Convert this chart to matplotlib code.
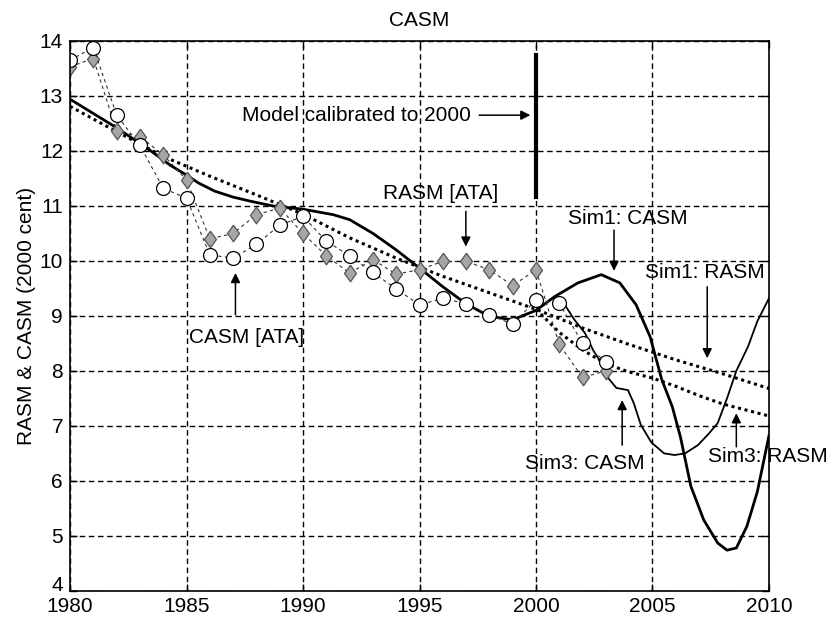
import matplotlib
matplotlib.use("Agg")
import matplotlib.pyplot as plt
import numpy as np

plt.rcParams['font.family'] = ['Liberation Sans', 'DejaVu Sans']

# ---- data ----
years_obs = list(range(1980, 2004))
casm_ata = [13.65, 13.88, 12.65, 12.10, 11.32, 11.14, 10.11, 10.05, 10.30, 10.65,
            10.81, 10.36, 10.09, 9.79, 9.49, 9.20, 9.32, 9.22, 9.02, 8.85,
            9.29, 9.23, 8.50, 8.17]
rasm_ata = [13.53, 13.68, 12.36, 12.26, 11.93, 11.47, 10.40, 10.50, 10.84, 10.96,
            10.50, 10.09, 9.78, 10.02, 9.76, 9.84, 9.99, 9.99, 9.84, 9.55,
            9.84, 8.48, 7.88, 8.00]

# model fit to 2000 then Sim1 CASM
sim1_casm_x = [1980, 1981, 1982, 1982.6, 1983.5, 1984.3, 1985, 1985.5, 1986.2, 1987,
               1987.8, 1988.7, 1990, 1991.3, 1992, 1993, 1994, 1995, 1996, 1997,
               1998, 1999, 2000,
               2000.8, 2001.8, 2002.8, 2003.6, 2004.3, 2004.9, 2005.4, 2005.85,
               2006.2, 2006.65, 2007.2, 2007.8, 2008.2, 2008.6, 2009.05, 2009.5, 2010]
sim1_casm_y = [12.94, 12.68, 12.42, 12.25, 11.99, 11.74, 11.56, 11.42, 11.27, 11.16,
               11.08, 11.00, 10.94, 10.84, 10.75, 10.50, 10.20, 9.87, 9.53, 9.22,
               8.99, 8.93, 9.10,
               9.35, 9.60, 9.75, 9.60, 9.20, 8.62, 7.84, 7.35,
               6.80, 5.90, 5.29, 4.87, 4.74, 4.78, 5.17, 5.80, 6.82]

# Sim3 CASM (departs after 2001)
sim3_casm_x = [2001.1, 2001.65, 2002.1, 2002.45, 2002.8, 2003.1, 2003.45, 2003.95,
               2004.2, 2004.5, 2004.95, 2005.5, 2005.95, 2006.4, 2006.95, 2007.4,
               2007.8, 2008.2, 2008.6, 2009.1, 2009.5, 2010]
sim3_casm_y = [9.29, 8.93, 8.69, 8.38, 8.14, 7.87, 7.69, 7.65,
               7.41, 7.02, 6.70, 6.50, 6.47, 6.50, 6.65, 6.85,
               7.05, 7.50, 8.00, 8.44, 8.90, 9.32]

# RASM model fit to 2000, then Sim1 RASM
sim1_rasm_x = [1980, 1982, 1984, 1986, 1988, 1990, 1992, 1994, 1996, 1998, 2000,
               2002, 2004, 2006, 2008, 2010]
sim1_rasm_y = [12.81, 12.35, 11.90, 11.54, 11.20, 10.85, 10.42, 10.05, 9.72, 9.42, 9.12,
               8.78, 8.48, 8.20, 7.95, 7.68]

# Sim3 RASM after 2000
sim3_rasm_x = [2000, 2001, 2002, 2003, 2004, 2005, 2006, 2007, 2008, 2009, 2010]
sim3_rasm_y = [9.12, 8.70, 8.38, 8.13, 7.98, 7.87, 7.72, 7.55, 7.40, 7.29, 7.18]

xticks = [1980, 1985, 1990, 1995, 2000, 2005, 2010]
yticks = [4, 5, 6, 7, 8, 9, 10, 11, 12, 13, 14]

# ---- figure ----
fig = plt.figure(figsize=(8.34, 6.2), dpi=100)
ax = fig.add_axes([0.084, 0.047, 0.838, 0.887])

ax.set_xlim(1980, 2010)
ax.set_ylim(4, 14)
ax.set_xticks(xticks)
ax.set_yticks(yticks)
ax.tick_params(direction='in', top=True, right=True, labelsize=15, length=5, width=1)
ax.tick_params(axis='x', pad=4.5)
ax.tick_params(axis='y', pad=5)
for s in ax.spines.values():
    s.set_linewidth(1.2)
ax.grid(True, color='black', linestyle=(0, (4, 2.6)), linewidth=1.0)
ax.set_axisbelow(True)

# lift the lowest y label a little, as in the reference
ylabels = ax.get_yticklabels()
ylabels[0].set_va('baseline')

ax.set_title('CASM', fontsize=15, pad=11)
ax.set_ylabel('RASM & CASM (2000 cent)', fontsize=15, labelpad=3)

# simulated curves
ax.plot(sim1_rasm_x, sim1_rasm_y, color='black', linestyle=(0, (1, 1.2)), linewidth=2.2)
ax.plot(sim3_rasm_x, sim3_rasm_y, color='black', linestyle=(0, (1, 1.2)), linewidth=2.2)
ax.plot(sim3_casm_x, sim3_casm_y, color='black', linewidth=1.3)
ax.plot(sim1_casm_x, sim1_casm_y, color='black', linewidth=2.0)

# observations
diamond = [(0, 1), (0.72, 0), (0, -1), (-0.72, 0), (0, 1)]
ax.plot(years_obs, rasm_ata, color='#333333', linestyle=(0, (3, 3)), linewidth=0.8,
        marker=diamond, markersize=12, markerfacecolor='#a6a6a6',
        markeredgecolor='#555555', markeredgewidth=0.9)
ax.plot(years_obs, casm_ata, color='#333333', linestyle=(0, (3, 3)), linewidth=0.8,
        marker='o', markersize=10, markerfacecolor='white',
        markeredgecolor='black', markeredgewidth=0.9)

# calibration line
ax.plot([2000, 2000], [11.16, 13.75], color='black', linewidth=3)

arrow = dict(arrowstyle='-|>', color='black', lw=1.1, mutation_scale=14,
             shrinkA=0, shrinkB=0)
fs = 15
ax.annotate('', xy=(1999.76, 12.65), xytext=(1997.56, 12.65), arrowprops=arrow)
ax.text(1987.38, 12.65, 'Model calibrated to 2000', fontsize=fs, ha='left', va='center')

ax.annotate('', xy=(1996.99, 10.26), xytext=(1996.99, 10.90), arrowprops=arrow)
ax.text(1995.92, 11.23, 'RASM [ATA]', fontsize=fs, ha='center', va='center')

ax.annotate('', xy=(1987.1, 9.78), xytext=(1987.1, 9.02), arrowprops=arrow)
ax.text(1987.56, 8.6, 'CASM [ATA]', fontsize=fs, ha='center', va='center')

ax.annotate('', xy=(2003.35, 9.82), xytext=(2003.35, 10.56), arrowprops=arrow)
ax.text(2003.95, 10.78, 'Sim1: CASM', fontsize=fs, ha='center', va='center')

ax.annotate('', xy=(2007.35, 8.23), xytext=(2007.35, 9.53), arrowprops=arrow)
ax.text(2007.27, 9.79, 'Sim1: RASM', fontsize=fs, ha='center', va='center')

ax.annotate('', xy=(2003.7, 7.47), xytext=(2003.7, 6.65), arrowprops=arrow)
ax.text(2002.1, 6.32, 'Sim3: CASM', fontsize=fs, ha='center', va='center')

ax.annotate('', xy=(2008.6, 7.23), xytext=(2008.6, 6.62), arrowprops=arrow)
ax.text(2009.96, 6.44, 'Sim3: RASM', fontsize=fs, ha='center', va='center', clip_on=False)

fig.savefig('out.png', dpi=100)
